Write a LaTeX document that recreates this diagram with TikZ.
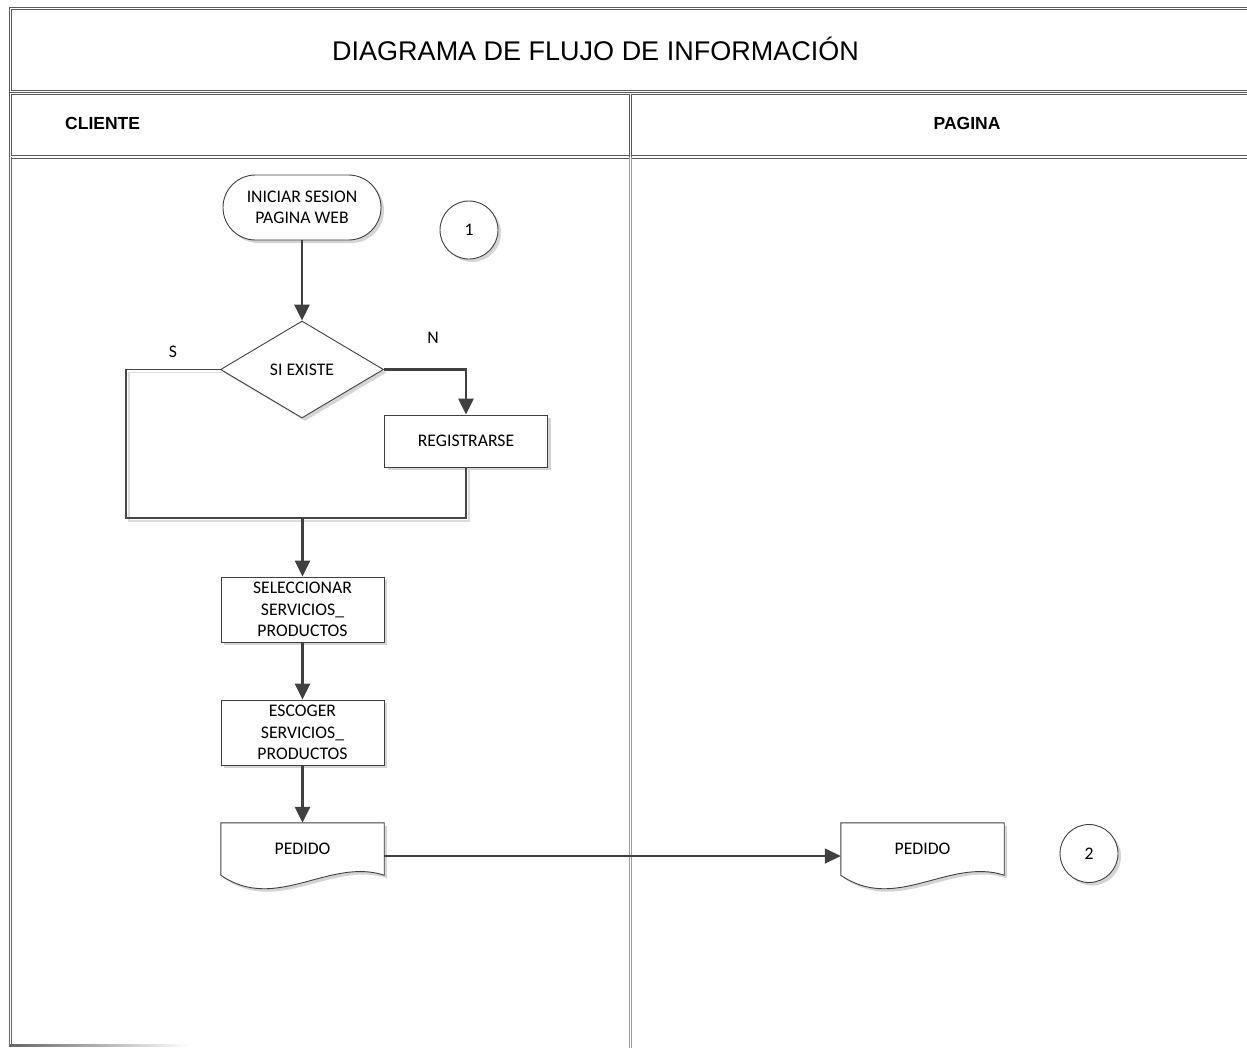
\documentclass[tikz,border=0pt]{standalone}
\usepackage{fontspec}
\setmainfont{Carlito}
\newfontfamily\arialfont{Liberation Sans}
\usetikzlibrary{shapes.geometric,shapes.misc,arrows.meta,shadows,calc,backgrounds}

\begin{document}
\begin{tikzpicture}[x=1pt,y=-1pt,
  shapetext/.style={font=\fontsize{17.7}{21.5}\selectfont, text=black, align=center},
  softshadow/.style={drop shadow={shadow xshift=3pt, shadow yshift=-3pt, fill=black!17, opacity=1}},
  outline/.style={draw=black!75, line width=0.9pt, fill=white, softshadow},
  stepbox/.style={shapetext, outline, rectangle, minimum width=163pt, inner sep=2pt},
  termbox/.style={shapetext, outline, rounded rectangle, minimum width=162pt, minimum height=65pt, inner sep=2pt},
  decision/.style={shapetext, outline, diamond, minimum width=163pt, minimum height=97pt, inner sep=0pt},
  connector/.style={shapetext, outline, circle, minimum size=58pt, inner sep=0pt},
  docnode/.style={shapetext, rectangle, minimum width=163pt, minimum height=52pt, inner sep=0pt},
  flow/.style={draw=black!75, line width=2.6pt, -{Triangle[length=16pt,width=15pt]}},
  link/.style={draw=black!72, line width=1.1pt, line join=miter,
    preaction={draw=black!14, line width=1.4pt, transform canvas={shift={(3pt,-3pt)}}}},
  frame/.style={draw=black!65, double=white, double distance=1.4pt, line width=1.1pt},
  laneline/.style={draw=black!38, double=white, double distance=1.6pt, line width=0.9pt},
  heading/.style={font=\arialfont\fontsize{17.5}{21}\selectfont\bfseries, text=black, inner sep=0pt},
]
\useasboundingbox (0,0) rectangle (1247,1047);
\clip (0,0) rectangle (1247,1047);

% swimlane frame
\draw[frame] (10.5,8.5) rectangle (1262,92);
\draw[frame] (10.5,93.5) rectangle (1262,157);
\draw[frame] (630.5,93.5) -- (630.5,157);
\draw[laneline, draw=black!60] (10.5,157) -- (10.5,1044.5);
\draw[laneline] (630.5,157) -- (630.5,1050);
\shade[left color=black!60, right color=white] (9,1044) rectangle (190,1046.2);

% titles
\node[font=\arialfont\fontsize{27}{32}\selectfont, text=black, anchor=base, inner sep=0pt] (title) at (595.5,60) {DIAGRAMA DE FLUJO DE INFORMACIÓN};
\node[heading, anchor=base west] (cliente) at (65,129) {CLIENTE};
\node[heading, anchor=base] (pagina) at (967,129) {PAGINA};

% shapes
\node[termbox] (inicio) at (302,207.5) {INICIAR SESION\\PAGINA WEB};
\node[connector] (c1) at (469,230) {1};
\node[decision] (dia) at (302,369.5) {SI EXISTE};
\node[stepbox, minimum height=52pt] (reg) at (466,441) {REGISTRARSE};
\node[stepbox, minimum height=65pt] (sel) at (302.5,609.5) {SELECCIONAR\\SERVICIOS\_\\PRODUCTOS};
\node[stepbox, minimum height=65pt] (esc) at (302.5,732.5) {ESCOGER\\SERVICIOS\_\\PRODUCTOS};
\node[docnode] (ped1) at (302.5,849) {PEDIDO};
\node[docnode] (ped2) at (922.5,849) {PEDIDO};
\node[connector] (c2) at (1089,853.5) {2};

% document outlines with wavy bottom
\begin{pgfonlayer}{background}
  \foreach \d in {ped1,ped2}{
    \path[outline] (\d.north west) -- (\d.north east) -- (\d.south east)
      .. controls ($(\d.south east)+(-55,-18)$) and ($(\d.south west)+(55,38)$) .. (\d.south west) -- cycle;
  }
\end{pgfonlayer}

% branch labels
\node[shapetext] (slabel) at (173,352) {S};
\node[shapetext] (nlabel) at (433,338) {N};

% connectors
\coordinate (sbend) at (126,369.5);
\coordinate (sfoot) at (126,518);
\coordinate (nfoot) at (466,518);
\coordinate (join) at (302.5,518);
\draw[link] (dia.west) -- (sbend) -- (sfoot) -- (nfoot) -- (reg.south);
\draw[flow] (inicio.south) -- (dia.north);
\draw[flow] (dia.east) -| (reg.north);
\draw[flow] (join) -- (sel.north);
\draw[flow] (sel.south) -- (esc.north);
\draw[flow] (esc.south) -- (ped1.north);
\draw[flow, line width=1.6pt] ([yshift=-7pt]ped1.east) -- ([yshift=-7pt]ped2.west);
\end{tikzpicture}
\end{document}
